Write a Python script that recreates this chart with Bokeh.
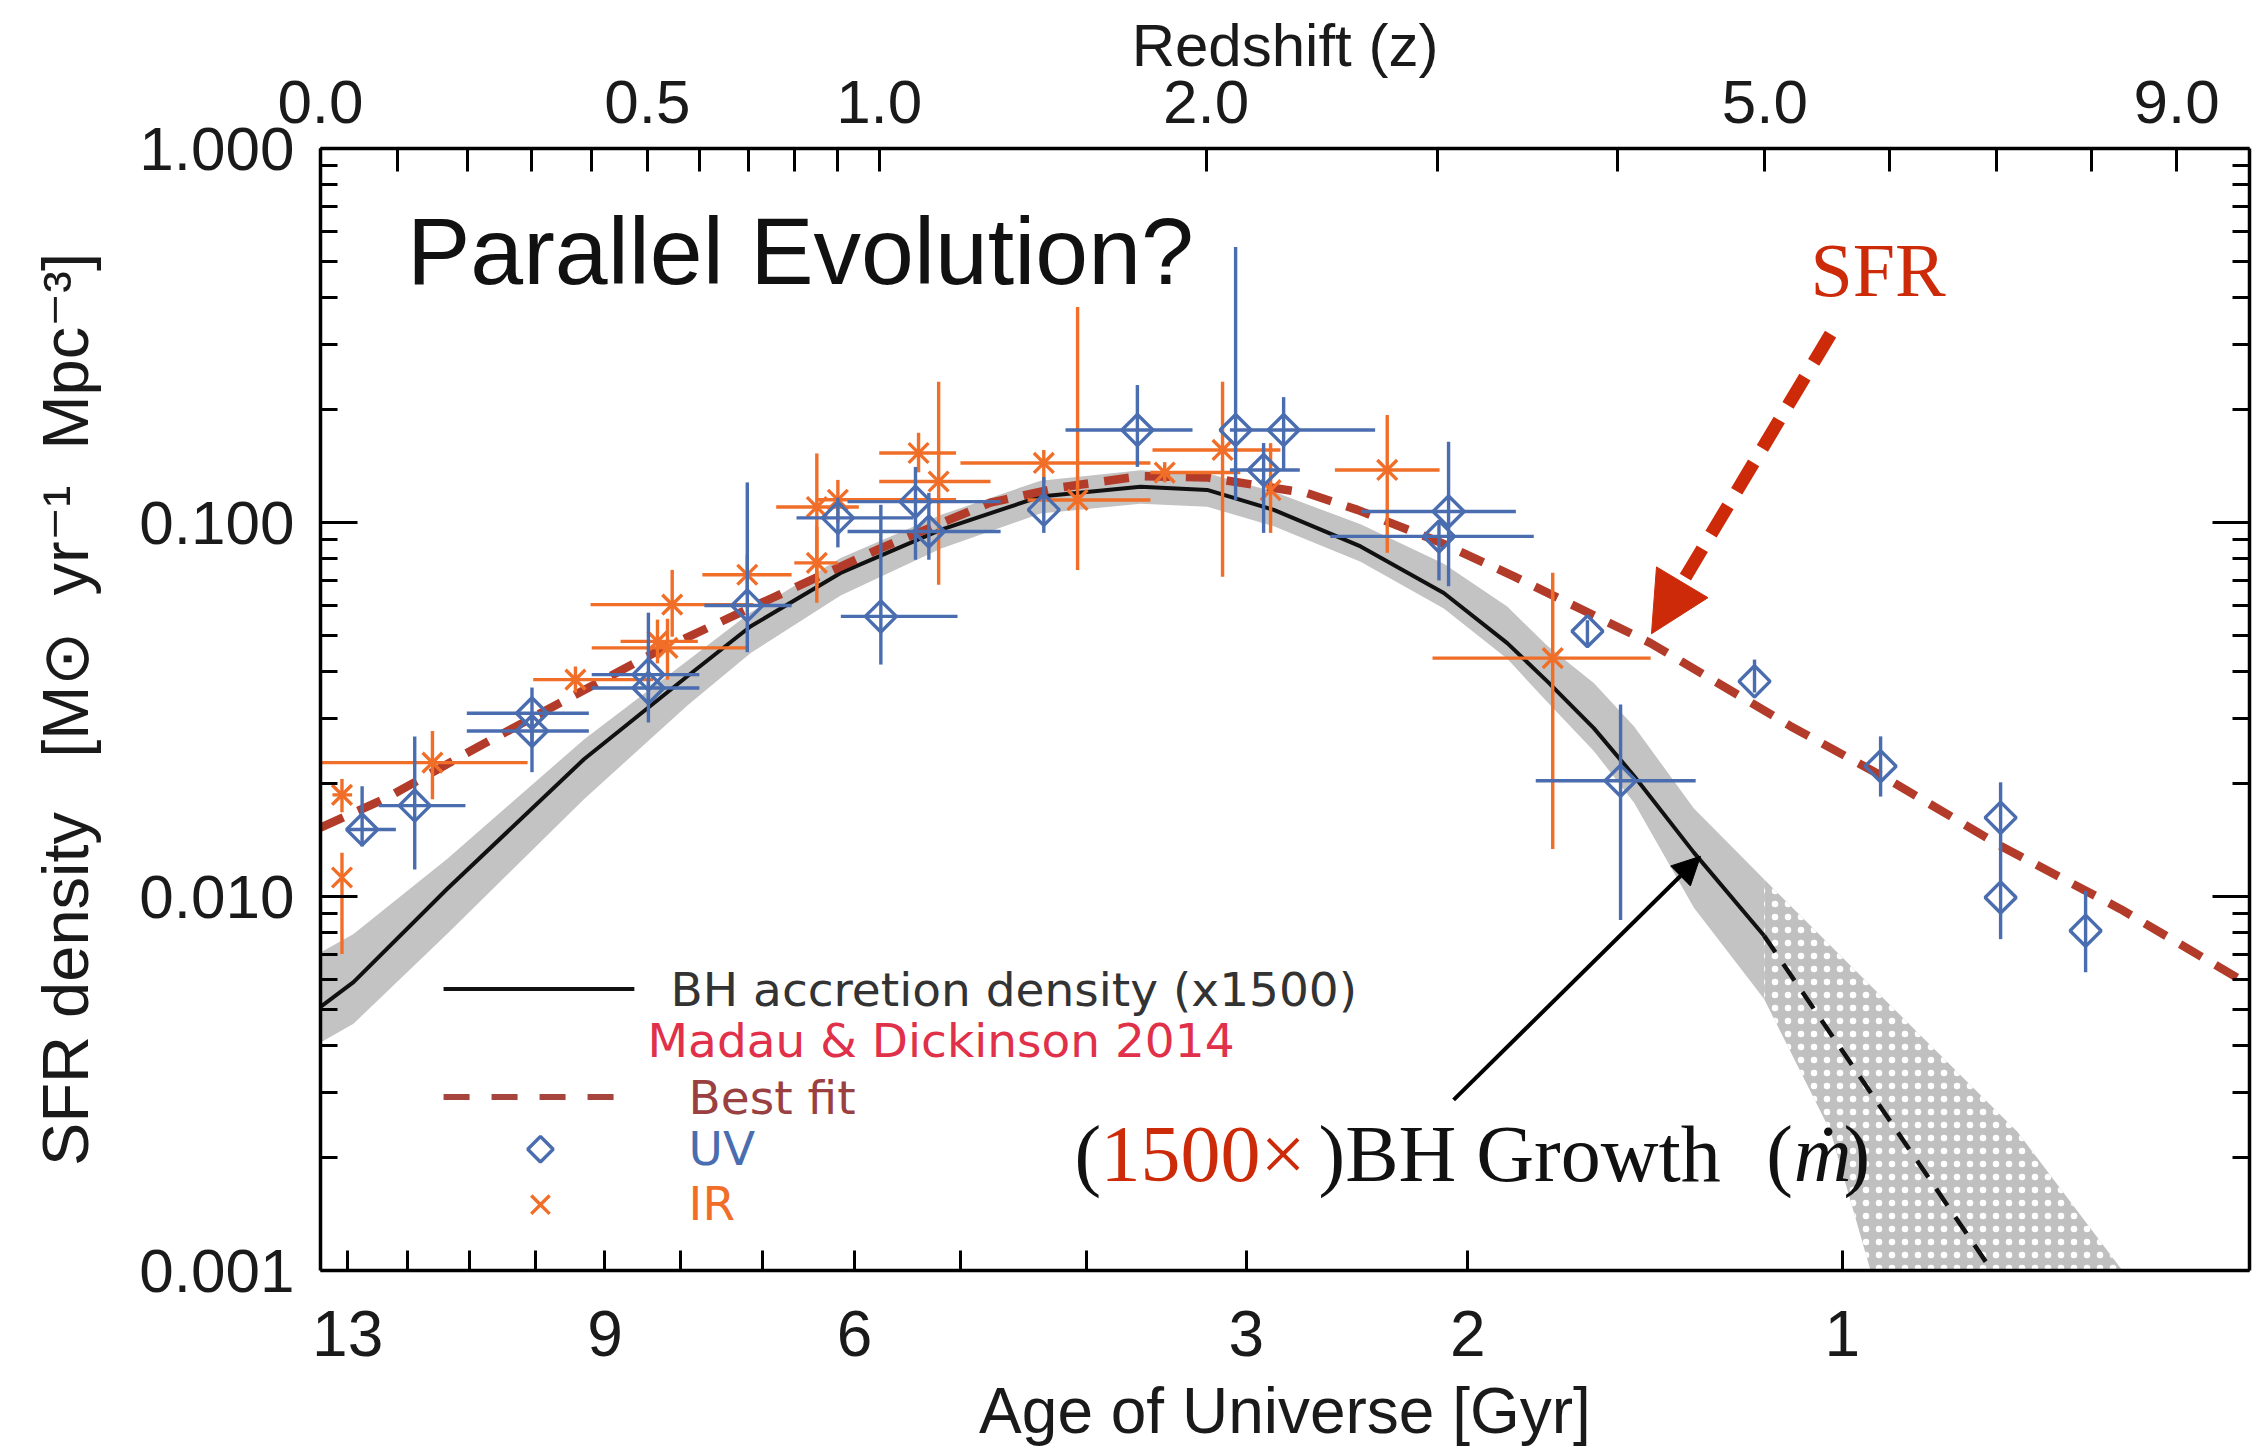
import numpy as np
from bokeh.plotting import figure
from bokeh.models import (Range1d, LinearAxis, LogAxis, FixedTicker, PrintfTickFormatter,
                          Label, Arrow, NormalHead)
from bokeh.embed import file_html
from bokeh.resources import INLINE

# ---------------- data ----------------
# UV (rest-frame UV) SFR densities: redshift, value, redshift range, value range
uv_z    = [0.053, 0.124, 0.300, 0.300, 0.502, 0.502, 0.698, 0.900, 1.004, 1.092, 1.127, 1.453,
           1.755, 2.112, 2.303, 2.222, 3.053, 3.005, 3.815, 4.017, 4.924, 5.927, 7.039, 7.039, 7.933]
uv_sfr  = [0.0151, 0.0175, 0.0309, 0.0277, 0.0392, 0.0361, 0.060, 0.1029, 0.0561, 0.1137, 0.0946, 0.1081,
           0.1767, 0.1767, 0.1767, 0.1382, 0.1070, 0.0918, 0.0512, 0.0204, 0.0376, 0.0223, 0.01625, 0.00994, 0.0081]
uv_zlo  = [0.035, 0.075, 0.199, 0.199, 0.40, 0.40, 0.61, 0.805, 0.907, 0.923, 0.923, 1.453,
           1.52, 2.112, 2.09, 2.09, 2.636, 2.50, 3.815, 3.516, 4.924, 5.927, 7.039, 7.039, 7.933]
uv_zhi  = [0.098, 0.197, 0.395, 0.395, 0.60, 0.60, 0.794, 1.087, 1.204, 1.325, 1.325, 1.453,
           1.95, 2.112, 2.70, 2.37, 3.406, 3.505, 3.815, 4.507, 4.924, 5.927, 7.039, 7.039, 7.933]
uv_lo   = [0.0136, 0.0118, 0.0215, 0.0255, 0.0292, 0.033, 0.045, 0.0858, 0.0417, 0.0795, 0.0795, 0.0938,
           0.1408, 0.1149, 0.1382, 0.0938, 0.0675, 0.070, 0.047, 0.00865, 0.0351, 0.0185, 0.0126, 0.00769, 0.00627]
uv_hi   = [0.0197, 0.0268, 0.0362, 0.0300, 0.0574, 0.040, 0.128, 0.1165, 0.1115, 0.1408, 0.120, 0.1323,
           0.2331, 0.545, 0.2164, 0.1631, 0.1644, 0.101, 0.0548, 0.0326, 0.043, 0.0268, 0.0202, 0.0126, 0.01035]

# IR SFR densities
ir_z    = [0.027, 0.027, 0.149, 0.372, 0.547, 0.538, 0.519, 0.698, 0.851, 0.851, 0.900, 1.100,
           1.153, 1.453, 1.558, 1.85, 2.062, 2.25, 2.756, 3.612]
ir_sfr  = [0.0187, 0.01124, 0.0228, 0.038, 0.0603, 0.0462, 0.0481, 0.0725, 0.078, 0.110, 0.115, 0.1534,
           0.1287, 0.1443, 0.1149, 0.136, 0.1563, 0.122, 0.1382, 0.0434]
ir_zlo  = [0.015, 0.027, 0.0, 0.302, 0.398, 0.40, 0.451, 0.606, 0.80, 0.76, 0.85, 1.0,
           1.0, 1.212, 1.404, 1.80, 1.807, 2.25, 2.52, 2.973]
ir_zhi  = [0.040, 0.027, 0.293, 0.511, 0.711, 0.698, 0.597, 0.794, 0.90, 0.95, 1.20, 1.20,
           1.296, 1.80, 1.80, 2.13, 2.29, 2.25, 3.008, 4.208]
ir_lo   = [0.0168, 0.00702, 0.0182, 0.0351, 0.0495, 0.038, 0.042, 0.064, 0.061, 0.0675, 0.10, 0.1362,
           0.0682, 0.1277, 0.0747, 0.128, 0.0716, 0.0938, 0.083, 0.0134]
ir_hi   = [0.0206, 0.0131, 0.0277, 0.0412, 0.0747, 0.0553, 0.055, 0.082, 0.0974, 0.153, 0.13, 0.1737,
           0.2378, 0.1563, 0.377, 0.145, 0.2378, 0.163, 0.1938, 0.0734]

# Madau & Dickinson 2014 best fit
fit_z   = [0.0, 0.0862, 0.2046, 0.3355, 0.5123, 0.7122, 1.0, 1.296, 1.5, 1.766, 2.004, 2.402,
           2.62, 3.0, 3.395, 4.207, 5.195, 6.0, 7.04, 8.33, 9.94]
fit_sfr = [0.01528, 0.01838, 0.02449, 0.03228, 0.0448, 0.0597, 0.085, 0.113, 0.124, 0.133, 0.132, 0.1197,
           0.1081, 0.089, 0.0718, 0.0476, 0.02854, 0.0205, 0.01365, 0.00925, 0.00581]

# BH accretion density (x1500) with its uncertainty band
bh_z    = [0.0, 0.0418, 0.170, 0.3866, 0.5764, 0.7046, 0.9065, 1.158, 1.443, 1.766, 2.004, 2.263,
           2.634, 3.029, 3.359, 3.581, 3.853, 4.102, 4.495, 4.995]
bh_sfr  = [0.00507, 0.0059, 0.01047, 0.02328, 0.0388, 0.0527, 0.0733, 0.0956, 0.1173, 0.1247, 0.1222, 0.1081,
           0.0863, 0.0648, 0.0476, 0.0376, 0.0282, 0.0210, 0.0131, 0.00785]
bh_lo   = [0.00407, 0.00457, 0.00794, 0.0182, 0.0324, 0.0447, 0.0638, 0.0851, 0.1057, 0.1122, 0.1102, 0.0977,
           0.0785, 0.0589, 0.0432, 0.0331, 0.0245, 0.0178, 0.00933, 0.00532]
bh_hi   = [0.00708, 0.00794, 0.01259, 0.0263, 0.0427, 0.0575, 0.0804, 0.1047, 0.1294, 0.138, 0.1355, 0.1208,
           0.0989, 0.0776, 0.0596, 0.0468, 0.0372, 0.0285, 0.01718, 0.01112]
# extrapolated part (dashed) and its hatched band
bhx_z   = [4.995, 6.94]
bhx_sfr = [0.00785, 0.00101]
hatch_z  = [4.995, 5.511, 5.841, 7.208, 8.35]
hatch_lo = [0.00532, 0.00235, 0.001, 0.0003, 0.0003]
hatch_hi = [0.01112, 0.00738, 0.00578, 0.00235, 0.001]

# axis ticks
top_major_z = [0.0, 0.5, 1.0, 2.0, 5.0, 9.0]
top_minor_z = [0.1, 0.2, 0.3, 0.4, 0.6, 0.7, 0.8, 0.9, 3.0, 4.0, 6.0, 7.0, 8.0]
age_major = [13, 9, 6, 3, 2, 1]
age_minor = [12, 11, 10, 8, 7, 5, 4]
sfr_major = [0.001, 0.01, 0.1, 1.0]

# ---------------- helpers ----------------
def lz(z):
    return np.log10(1.0 + np.asarray(z, dtype=float))

# flat LCDM (H0=70, Om=0.3): age in Gyr -> log10(1+z)
H0, OM, OL = 70.0, 0.3, 0.7
T_H = 2.0 / 3.0 * (977.8 / H0) / np.sqrt(OL)

def age_to_lz(t):
    x = np.sinh(np.asarray(t, dtype=float) / T_H) / np.sqrt(OL / OM)
    return np.log10(x ** (-2.0 / 3.0))

BLUE = "#4a6db0"
ORANGE = "#f06e28"
FITRED = "#b33b2a"
ARROWRED = "#cc2a08"
GREY = "#c3c3c3"
INK = "#1a1a1a"

p = figure(width=2256, height=1449, title=None,
           x_range=Range1d(0.0, 1.0393), y_range=Range1d(0.001, 1.0),
           y_axis_type="log", output_backend="svg", toolbar_location=None,
           min_border_left=320, min_border_right=7, min_border_top=148, min_border_bottom=177)
p.outline_line_color = None
p.xgrid.visible = False
p.ygrid.visible = False
p.background_fill_color = "white"
p.border_fill_color = "white"

# ---------------- BH band & curve ----------------
p.varea(x=lz(bh_z), y1=bh_lo, y2=bh_hi, fill_color=GREY)
p.varea(x=lz(hatch_z), y1=hatch_lo, y2=hatch_hi, fill_color="#c0c0c0",
        hatch_pattern="dot", hatch_color="white", hatch_scale=13, hatch_weight=7)
p.line(lz(bh_z), bh_sfr, line_color="#111111", line_width=4)
p.line(lz(bhx_z), bhx_sfr, line_color="#111111", line_width=4.5, line_dash="20 14")

# ---------------- best fit ----------------
p.line(lz(fit_z), fit_sfr, line_color=FITRED, line_width=8.5, line_dash="25 16")

# ---------------- data points ----------------
def points(z, s, zlo, zhi, lo, hi, color, marker, size, angle=0.0):
    x = lz(z)
    p.segment(x0=lz(zlo), y0=s, x1=lz(zhi), y1=s, line_color=color, line_width=3.4)
    p.segment(x0=x, y0=lo, x1=x, y1=hi, line_color=color, line_width=3.4)
    p.scatter(x=x, y=s, marker=marker, size=size, angle=angle, line_color=color,
              line_width=3.4, fill_alpha=0.0)

points(ir_z, ir_sfr, ir_zlo, ir_zhi, ir_lo, ir_hi, ORANGE, "x", 28)
points(uv_z, uv_sfr, uv_zlo, uv_zhi, uv_lo, uv_hi, BLUE, "square", 22, angle=np.pi / 4)

# ---------------- axes ----------------
def style(ax, tin, tmin):
    ax.axis_line_width = 3.5
    ax.axis_line_color = "black"
    ax.major_tick_line_width = 3
    ax.minor_tick_line_width = 3
    ax.major_tick_in = tin
    ax.major_tick_out = 0
    ax.minor_tick_in = tmin
    ax.minor_tick_out = 0
    ax.major_tick_line_color = "black"
    ax.minor_tick_line_color = "black"
    ax.major_label_text_font = "Liberation Sans"
    ax.major_label_text_font_size = "62px"
    ax.major_label_text_color = INK
    ax.axis_label_text_font = "Liberation Sans"
    ax.axis_label_text_font_style = "normal"
    ax.axis_label_text_color = INK

y_minor = [k * 10.0 ** e for e in (-3, -2, -1) for k in range(2, 10)]
y_ticker = FixedTicker(ticks=sfr_major, minor_ticks=y_minor)

yl = p.yaxis[0]
yl.ticker = y_ticker
yl.formatter = PrintfTickFormatter(format="%.3f")
style(yl, 37, 17)
yl.major_label_standoff = 26
yl.axis_label = "SFR density\u00a0\u00a0\u00a0[M\u2299\u00a0\u00a0yr\u207b\u00b9\u00a0\u00a0Mpc\u207b\u00b3]"
yl.axis_label_text_font_size = "65px"
yl.axis_label_standoff = 34

yr = LogAxis(ticker=y_ticker)
style(yr, 37, 17)
yr.major_label_overrides = {v: "" for v in sfr_major}
yr.major_label_standoff = 0
p.add_layout(yr, "right")

xb = p.xaxis[0]
age_major_x = [float(v) for v in age_to_lz(age_major)]
age_minor_x = [float(v) for v in age_to_lz(age_minor)]
xb.ticker = FixedTicker(ticks=age_major_x, minor_ticks=age_minor_x)
xb.major_label_overrides = {xv: str(a) for xv, a in zip(age_major_x, age_major)}
style(xb, 20, 20)
xb.major_label_text_font_size = "64px"
xb.major_label_standoff = 40
xb.axis_label = "Age of Universe [Gyr]"
xb.axis_label_text_font_size = "64px"
xb.axis_label_standoff = 16

top_major_x = [float(v) for v in lz(top_major_z)]
top_minor_x = [float(v) for v in lz(top_minor_z)]
xt = LinearAxis(ticker=FixedTicker(ticks=top_major_x, minor_ticks=top_minor_x))
xt.major_label_overrides = {xv: f"{zv:.1f}" for xv, zv in zip(top_major_x, top_major_z)}
style(xt, 23, 23)
xt.major_label_text_font_size = "62px"
xt.major_label_standoff = 26
xt.axis_label = "Redshift (z)"
xt.axis_label_text_font_size = "60px"
xt.axis_label_standoff = -1
p.add_layout(xt, "above")

# ---------------- text helper ----------------
def lab(x, y, text, color, font, size, style="normal", align="left"):
    p.add_layout(Label(x=x, y=y, text=text, text_color=color, text_font=font,
                       text_font_size=size, text_font_style=style,
                       text_baseline="middle", text_align=align))

# ---------------- legend (drawn by hand) ----------------
leg_x0, leg_x1, leg_mk, leg_tx = 0.0663, 0.1691, 0.1185, 0.1983
p.line([leg_x0, leg_x1], [0.005658, 0.005658], line_color="#111111", line_width=4)
p.line([leg_x0, leg_x1], [0.00291, 0.00291], line_color="#a8443e", line_width=6, line_dash="26 22")
p.scatter([leg_mk], [0.00211], marker="square", angle=np.pi / 4, size=18, line_color=BLUE,
          line_width=3.4, fill_alpha=0)
p.scatter([leg_mk], [0.0015], marker="x", size=26, line_color=ORANGE, line_width=3.4)

lab(0.1886, 0.005658, "BH accretion density (x1500)", "#333333", "DejaVu Sans", "47px")
lab(0.1762, 0.00411, "Madau & Dickinson 2014", "#e0304a", "DejaVu Sans", "47px")
lab(leg_tx, 0.002897, "Best fit", "#9a4040", "DejaVu Sans", "47px")
lab(leg_tx, 0.002117, "UV", BLUE, "DejaVu Sans", "47px")
lab(leg_tx, 0.001509, "IR", ORANGE, "DejaVu Sans", "47px")

# ---------------- annotations ----------------
lab(0.0466, 0.532, "Parallel Evolution?", "#111111", "Liberation Sans", "95px")
lab(0.8028, 0.4725, "SFR", ARROWRED, "Liberation Serif", "76px")

ann_y = 0.002045
lab(0.4062, ann_y, "(", "#111111", "Liberation Serif", "80px")
lab(0.4203, ann_y, "1500\u00d7", ARROWRED, "Liberation Serif", "80px")
lab(0.5377, ann_y, ")BH Growth", "#111111", "Liberation Serif", "80px")
lab(0.7790, ann_y, "(", "#111111", "Liberation Serif", "80px")
lab(0.7937, ann_y, "\u1e41", "#111111", "Liberation Serif", "80px", style="italic")
lab(0.8205, ann_y, ")", "#111111", "Liberation Serif", "80px")

p.add_layout(Arrow(end=NormalHead(size=60, fill_color=ARROWRED, line_color=ARROWRED, line_width=1),
                   x_start=0.8136, y_start=0.3189, x_end=0.7171, y_end=0.0504,
                   line_color=ARROWRED, line_width=13, line_dash="33 17"))
p.add_layout(Arrow(end=NormalHead(size=28, fill_color="black", line_color="black", line_width=1),
                   x_start=0.6105, y_start=0.00286, x_end=0.7435, y_end=0.01281,
                   line_color="black", line_width=4))

open("out.html", "w").write(file_html(p, INLINE))
